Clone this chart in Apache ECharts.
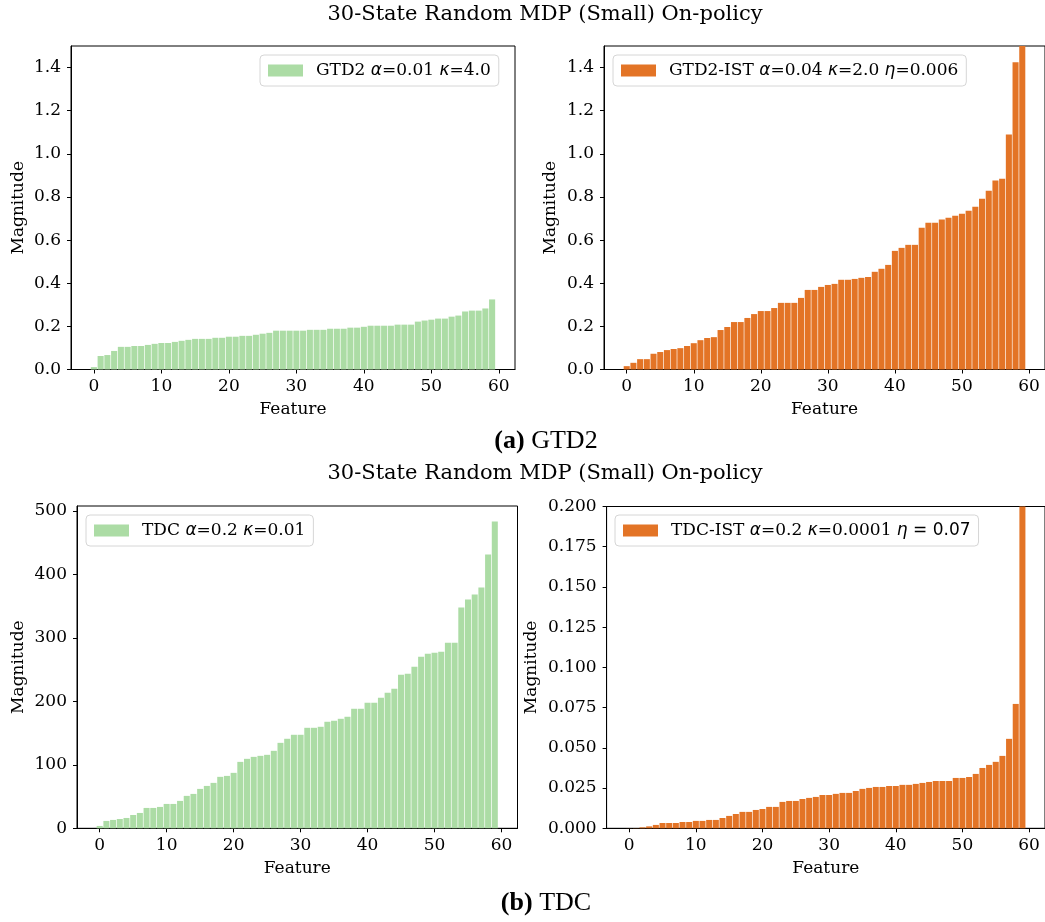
<!DOCTYPE html>
<html>
<head>
<meta charset="utf-8">
<script src="https://cdn.jsdelivr.net/npm/echarts@6/dist/echarts.min.js"></script>
<style>
  html, body { margin: 0; padding: 0; background: #ffffff; }
  #chart { width: 1045px; height: 922px; }
</style>
</head>
<body>
<div id="chart"></div>
<script>
// Feature indices (x positions of the bars)
const features = Array.from({ length: 60 }, (_, i) => i);

// Sorted weight magnitudes per algorithm
const gtd2 = [
  0.011, 0.0625, 0.067, 0.086, 0.105, 0.105, 0.109, 0.109, 0.114, 0.119,
  0.123, 0.123, 0.128, 0.133, 0.1375, 0.142, 0.142, 0.142, 0.147, 0.147,
  0.152, 0.152, 0.156, 0.156, 0.161, 0.166, 0.170, 0.180, 0.180, 0.180,
  0.180, 0.180, 0.184, 0.184, 0.184, 0.189, 0.189, 0.189, 0.194, 0.194,
  0.198, 0.203, 0.203, 0.203, 0.203, 0.208, 0.208, 0.208, 0.222, 0.227,
  0.231, 0.236, 0.236, 0.245, 0.250, 0.269, 0.273, 0.273, 0.283, 0.325
];
const gtd2Ist = [
  0.0155, 0.031, 0.048, 0.048, 0.073, 0.081, 0.090, 0.095, 0.099, 0.109,
  0.122, 0.136, 0.146, 0.150, 0.183, 0.197, 0.220, 0.220, 0.239, 0.257,
  0.271, 0.271, 0.285, 0.309, 0.309, 0.309, 0.332, 0.369, 0.369, 0.383,
  0.392, 0.397, 0.416, 0.416, 0.420, 0.425, 0.429, 0.453, 0.467, 0.485,
  0.550, 0.564, 0.578, 0.578, 0.657, 0.681, 0.681, 0.695, 0.704, 0.713,
  0.722, 0.736, 0.755, 0.792, 0.829, 0.876, 0.885, 1.090, 1.425, 1.62
];
const tdc = [
  3.7, 11.6, 13.2, 14.7, 16.3, 21.0, 24.2, 32.1, 32.1, 33.7,
  38.4, 38.4, 43.2, 51.1, 54.2, 62.1, 66.8, 71.6, 81.1, 82.6,
  87.4, 104.7, 109.5, 112.6, 114.2, 115.8, 122.1, 134.7, 141.1, 147.4,
  147.4, 158.4, 158.4, 160.0, 167.9, 169.5, 172.6, 175.8, 188.4, 188.4,
  197.9, 197.9, 205.8, 213.7, 220.0, 242.1, 243.7, 254.7, 270.5, 275.3,
  276.8, 278.4, 292.6, 292.6, 347.9, 360.5, 368.4, 379.5, 431.6, 483.7
];
const tdcIst = [
  0.00005, 0.0001, 0.0006, 0.0012, 0.0021, 0.0033, 0.0033, 0.0033, 0.0039, 0.0039,
  0.0046, 0.0046, 0.0052, 0.0052, 0.0064, 0.0077, 0.0089, 0.0102, 0.0102, 0.0114,
  0.0120, 0.0133, 0.0133, 0.0164, 0.0170, 0.0170, 0.0182, 0.0189, 0.0195, 0.0207,
  0.0207, 0.0214, 0.0220, 0.0220, 0.0232, 0.0245, 0.0251, 0.0257, 0.0257, 0.0263,
  0.0263, 0.0270, 0.0270, 0.0276, 0.0282, 0.0288, 0.0294, 0.0294, 0.0294, 0.0313,
  0.0313, 0.0319, 0.0338, 0.0375, 0.0394, 0.0413, 0.0450, 0.0556, 0.0773, 0.25
];

// Tick values
const xTicks = [0, 10, 20, 30, 40, 50, 60];
const yTicksGtd2 = [0, 0.2, 0.4, 0.6, 0.8, 1.0, 1.2, 1.4];
const yTicksTdc = [0, 100, 200, 300, 400, 500];
const yTicksTdcIst = [0, 0.025, 0.05, 0.075, 0.1, 0.125, 0.15, 0.175, 0.2];

// Legend labels (rich text: italic greek letters)
const legendLabels = {
  'GTD2': 'GTD2 {i|α}=0.01 {i|κ}=4.0',
  'GTD2-IST': 'GTD2-IST {i|α}=0.04 {i|κ}=2.0 {i|η}=0.006',
  'TDC': 'TDC {i|α}=0.2 {i|κ}=0.01',
  'TDC-IST': 'TDC-IST {i|α}=0.2 {i|κ}=0.0001 {i|η}{s| = 0.07}'
};

const GREEN = '#acdca5';
const ORANGE = '#e37426';
const SERIF = "'DejaVu Serif', serif";
const SANS = "'DejaVu Sans', sans-serif";
const CAPTION = "'Liberation Serif', 'DejaVu Serif', serif";
const X_MIN = -3.39, X_MAX = 62.39;

const panels = [
  { name: 'GTD2', values: gtd2, color: GREEN,
    grid: { left: 71, top: 46, width: 444, height: 323.5 },
    yMax: 1.5, yTicks: yTicksGtd2, digits: 1, nameGap: 44, legendPos: { left: 260, top: 55 } },
  { name: 'GTD2-IST', values: gtd2Ist, color: ORANGE,
    grid: { left: 604, top: 46, width: 443, height: 323.5 },
    yMax: 1.5, yTicks: yTicksGtd2, digits: 1, nameGap: 45, legendPos: { left: 613, top: 55 } },
  { name: 'TDC', values: tdc, color: GREEN,
    grid: { left: 77, top: 506, width: 440.5, height: 322.3 },
    yMax: 508, yTicks: yTicksTdc, digits: 0, nameGap: 50, legendPos: { left: 86, top: 515 } },
  { name: 'TDC-IST', values: tdcIst, color: ORANGE,
    grid: { left: 606.6, top: 506.5, width: 441, height: 321.8 },
    yMax: 0.2, yTicks: yTicksTdcIst, digits: 3, nameGap: 67, legendPos: { left: 615, top: 515 } }
];

const axisColor = '#000000';
const tickFont = { fontFamily: SERIF, fontSize: 17, color: '#000' };

function captionText(label, title, y) {
  return {
    type: 'text', x: 546, y: y,
    style: {
      text: '{b|' + label + '} ' + title, font: `26px ${CAPTION}`, fill: '#000',
      align: 'center', verticalAlign: 'middle',
      rich: { b: { fontFamily: CAPTION, fontWeight: 'bold', fontSize: 26, fill: '#000' } }
    }
  };
}
function suptitle(y) {
  return {
    type: 'text', x: 545, y: y,
    style: {
      text: '30-State Random MDP (Small) On-policy', font: `21px ${SERIF}`, fill: '#000',
      align: 'center', verticalAlign: 'middle'
    }
  };
}

const option = {
  backgroundColor: '#ffffff',
  animation: false,
  grid: panels.map(p => Object.assign({
    show: true, borderColor: axisColor, borderWidth: 1, backgroundColor: 'transparent'
  }, p.grid)),
  xAxis: panels.map((p, i) => ({
    type: 'value', gridIndex: i, min: X_MIN, max: X_MAX,
    name: 'Feature', nameLocation: 'middle', nameGap: 32,
    nameTextStyle: { fontFamily: SERIF, fontSize: 17, color: '#000', verticalAlign: 'top' },
    axisLine: { show: true, onZero: false, lineStyle: { color: axisColor, width: 1 } },
    axisTick: { show: true, length: 4, customValues: xTicks, lineStyle: { color: axisColor, width: 1 } },
    axisLabel: Object.assign({ customValues: xTicks, margin: 9, formatter: v => String(v) }, tickFont),
    splitLine: { show: false }
  })),
  yAxis: panels.map((p, i) => ({
    type: 'value', gridIndex: i, min: 0, max: p.yMax,
    name: 'Magnitude', nameLocation: 'middle', nameGap: p.nameGap,
    nameTextStyle: { fontFamily: SERIF, fontSize: 17, color: '#000' },
    axisLine: { show: true, onZero: false, lineStyle: { color: axisColor, width: 1 } },
    axisTick: { show: true, length: 4, customValues: p.yTicks, lineStyle: { color: axisColor, width: 1 } },
    axisLabel: Object.assign({ customValues: p.yTicks, margin: 10,
      formatter: v => Number(v).toFixed(p.digits) }, tickFont),
    splitLine: { show: false }
  })),
  legend: panels.map(p => ({
    data: [p.name],
    left: p.legendPos.left, top: p.legendPos.top,
    orient: 'vertical',
    icon: 'rect', itemWidth: 35, itemHeight: 12,
    padding: [7, 8, 7, 8],
    backgroundColor: 'rgba(255,255,255,0.8)',
    borderColor: '#d6d6d6', borderWidth: 1, borderRadius: 4,
    selectedMode: false,
    formatter: name => legendLabels[name],
    textStyle: {
      fontFamily: SERIF, fontSize: 17, color: '#000', padding: [0, 0, 0, 8],
      rich: {
        i: { fontFamily: SANS, fontStyle: 'italic', fontSize: 17, color: '#000' },
        s: { fontFamily: SANS, fontSize: 17, color: '#000' }
      }
    }
  })),
  series: panels.map((p, i) => ({
    type: 'bar', name: p.name,
    xAxisIndex: i, yAxisIndex: i,
    data: features.map((f, k) => [f, p.values[k]]),
    barWidth: 0.9 * p.grid.width / (X_MAX - X_MIN),
    itemStyle: { color: p.color },
    clip: true
  })),
  graphic: [
    suptitle(15),
    captionText('(a)', 'GTD2', 441),
    suptitle(474),
    captionText('(b)', 'TDC', 903)
  ]
};

const chart = echarts.init(document.getElementById('chart'), null, { renderer: 'canvas' });
chart.setOption(option);
</script>
</body>
</html>
